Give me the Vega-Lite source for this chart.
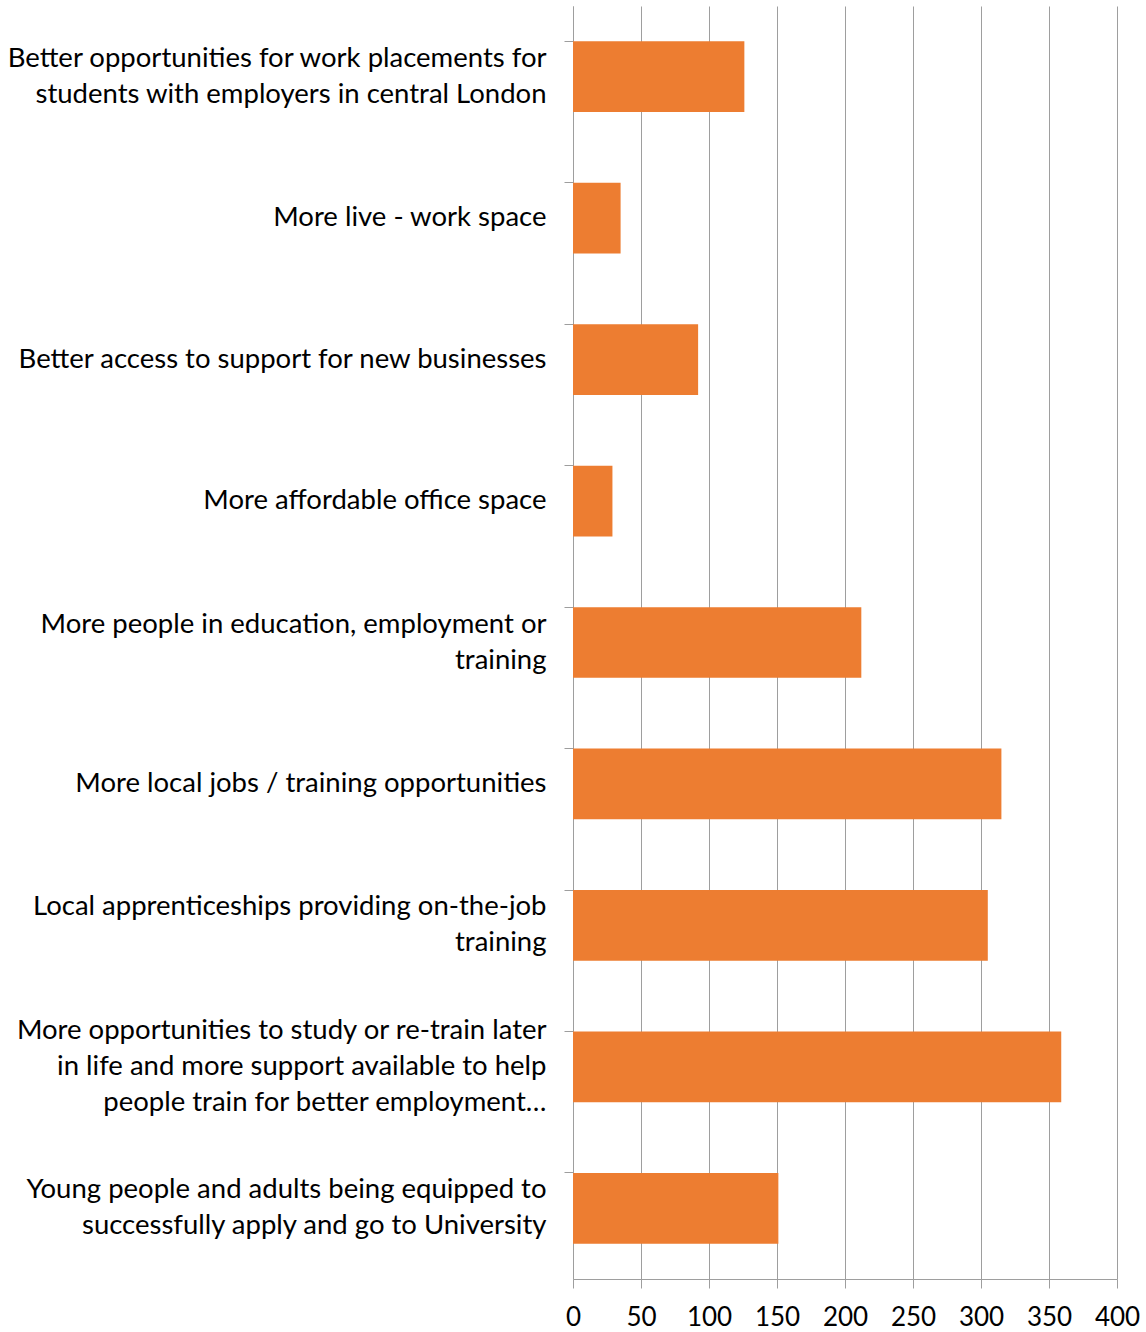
{
  "$schema": "https://vega.github.io/schema/vega-lite/v6.json",
  "width": 544,
  "height": 1273,
  "padding": {"left": 5, "top": 6, "right": 5, "bottom": 5},
  "background": "white",
  "config": {
    "view": {"stroke": null},
    "font": "Lato, sans-serif"
  },
  "data": {
    "values": [
      {"label": "Better opportunities for work placements for|students with employers in central London", "count": 126},
      {"label": "More live - work space", "count": 35},
      {"label": "Better access to support for new businesses", "count": 92},
      {"label": "More affordable office space", "count": 29},
      {"label": "More people in education, employment or|training", "count": 212},
      {"label": "More local jobs / training opportunities", "count": 315},
      {"label": "Local apprenticeships providing on-the-job|training", "count": 305},
      {"label": "More opportunities to study or re-train later|in life and more support available to help|people train for better employment…", "count": 359},
      {"label": "Young people and adults being equipped to|successfully apply and go to University", "count": 151}
    ]
  },
  "mark": {"type": "bar", "color": "#ED7D31"},
  "encoding": {
    "y": {
      "field": "label",
      "type": "nominal",
      "sort": null,
      "scale": {"paddingInner": 0.5, "paddingOuter": 0.25},
      "axis": {
        "title": null,
        "labelExpr": "split(datum.value, '|')",
        "labelFontSize": 27.5,
        "labelColor": "#000000",
        "labelLineHeight": 36,
        "labelLimit": 800,
        "labelPadding": 18,
        "labelOffset": {
          "condition": [
            {"test": "length(split(datum.value, '|')) == 3", "value": -36},
            {"test": "length(split(datum.value, '|')) == 2", "value": -18}
          ],
          "value": 0
        },
        "tickSize": 9,
        "tickColor": "#9e9e9e",
        "domainColor": "#9e9e9e",
        "bandPosition": 0,
        "grid": false
      }
    },
    "x": {
      "field": "count",
      "type": "quantitative",
      "scale": {"domain": [0, 400], "nice": false},
      "axis": {
        "title": null,
        "values": [0, 50, 100, 150, 200, 250, 300, 350, 400],
        "labelFontSize": 26,
        "labelColor": "#000000",
        "labelPadding": 16,
        "tickSize": 9,
        "tickColor": "#9e9e9e",
        "domainColor": "#9e9e9e",
        "grid": true,
        "gridColor": "#9e9e9e",
        "labelFlush": false
      }
    }
  }
}
